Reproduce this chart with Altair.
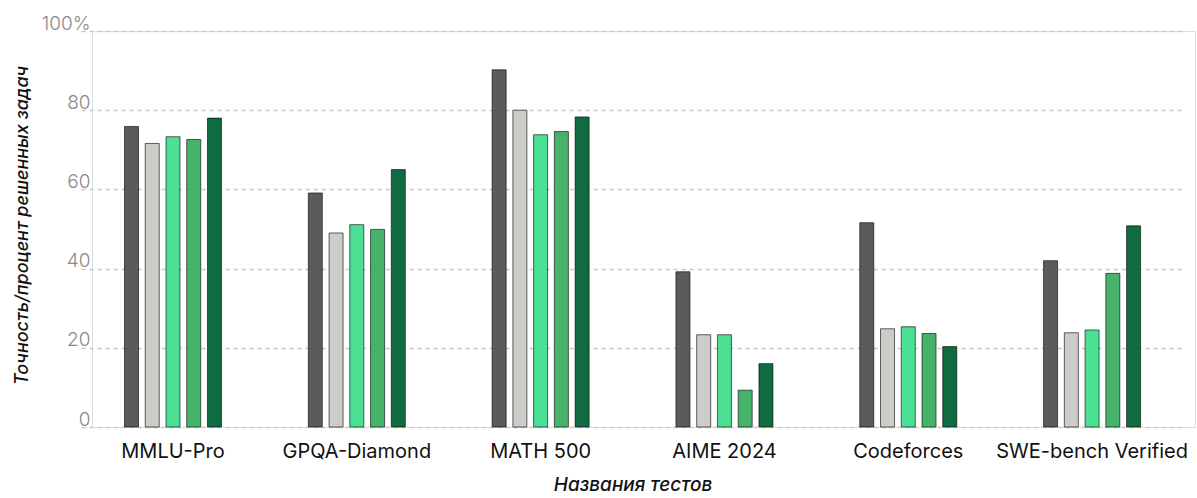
import altair as alt
import pandas as pd

categories = ["MMLU-Pro", "GPQA-Diamond", "MATH 500", "AIME 2024", "Codeforces", "SWE-bench Verified"]
models = ["DeepSeek-V3", "Qwen2.5-72B-Inst", "Llama-3.1-405B-Inst", "GPT-4o-0513", "Claude-3.5-Sonnet-1022"]
colors = ["#5b5b5b", "#cccdc8", "#4be093", "#47b36a", "#106c40"]

deepseek = [75.9, 59.1, 90.2, 39.2, 51.6, 42.0]
qwen = [71.6, 49.0, 80.0, 23.3, 24.8, 23.8]
llama = [73.3, 51.1, 73.8, 23.3, 25.3, 24.5]
gpt4o = [72.6, 49.9, 74.6, 9.3, 23.6, 38.8]
claude = [78.0, 65.0, 78.3, 16.0, 20.3, 50.8]

series = [deepseek, qwen, llama, gpt4o, claude]
rows = []
for m, vals in zip(models, series):
    for c, v in zip(categories, vals):
        rows.append({"test": c, "model": m, "value": v})
df = pd.DataFrame(rows)

FONT = "Inter"
W, H = 1103, 396

chart = alt.Chart(df).mark_bar(stroke="#000000", strokeOpacity=0.6, strokeWidth=1).encode(
    x=alt.X("test:N", sort=categories,
            scale=alt.Scale(range=[-10.9, 1092.0], paddingInner=0, paddingOuter=0),
            axis=alt.Axis(title="Названия тестов", labelAngle=0, labelFontSize=20,
                          labelColor="#111111", labelFont=FONT, labelPadding=14, labelLimit=400,
                          ticks=False, domain=False, grid=False,
                          titleFont=FONT, titleFontSize=19, titleFontStyle="italic",
                          titleFontWeight=500, titleColor="#111111", titlePadding=14)),
    xOffset=alt.XOffset("model:N", sort=models,
                        scale=alt.Scale(range=[43.4, 140.4], paddingInner=0.325, paddingOuter=0)),
    y=alt.Y("value:Q", scale=alt.Scale(domain=[0, 100], nice=False),
            axis=alt.Axis(title="Точность/процент решенных задач", values=[0, 20, 40, 60, 80, 100],
                          labelExpr="datum.value == 100 ? '100%' : datum.label",
                          labelFont=FONT, labelFontSize=19, labelFontWeight=300, labelColor="#8a8a8a",
                          labelBaseline="alphabetic", labelPadding=2, labelOffset=-2,
                          ticks=False, domain=False,
                          grid=True, gridDash=[4, 4], gridColor="#c8c8c8", gridWidth=1.3,
                          titleFont=FONT, titleFontSize=18, titleFontStyle="italic",
                          titleFontWeight=500, titleColor="#111111",
                          titleX=-70, titleY=H / 2 - 4, titleAngle=-90, titleBaseline="middle",
                          titleAlign="center")),
    color=alt.Color("model:N", sort=models, scale=alt.Scale(domain=models, range=colors), legend=None),
).properties(
    width=W, height=H,
    autosize=alt.AutoSizeParams(type="none"),
    padding={"left": 92, "top": 31, "right": 2, "bottom": 71},
).configure_view(stroke=None).configure(background="white")

chart.save("out.html", embed_options={"renderer": "svg", "actions": False})
